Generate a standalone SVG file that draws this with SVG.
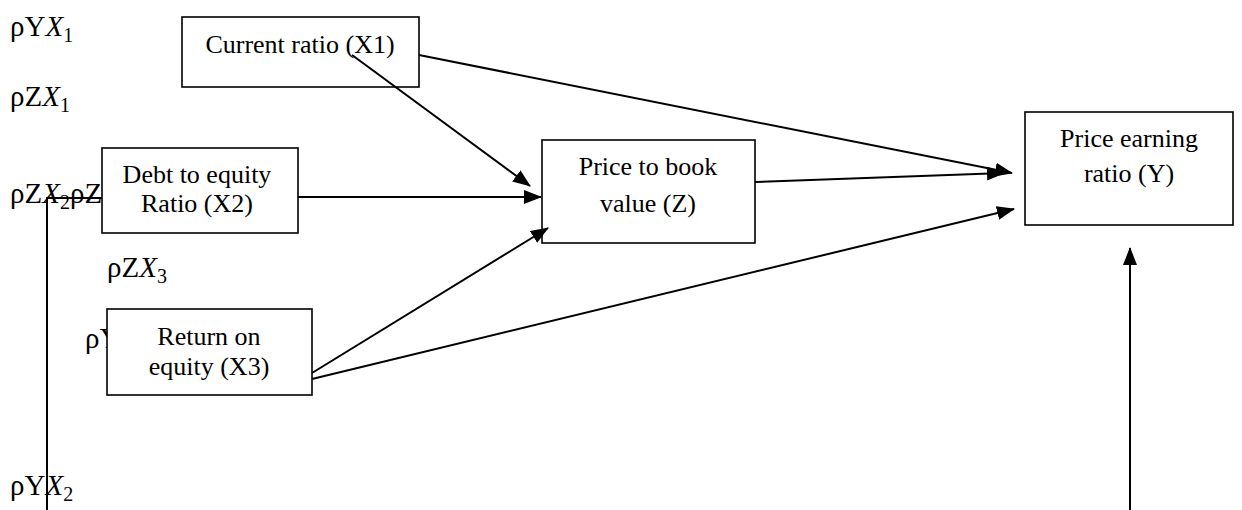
<svg xmlns="http://www.w3.org/2000/svg" width="1242" height="510" viewBox="0 0 1242 510">
  <style>
    .box { fill: #ffffff; stroke: #000000; stroke-width: 1.6; }
    .lbl { font-family: "Liberation Serif", "Times New Roman", serif; font-size: 26px; fill: #000000; text-anchor: middle; }
    .sym { font-family: "Liberation Serif", "Times New Roman", serif; font-size: 29px; fill: #000000; }
    .it { font-style: italic; }
    .sub { font-size: 20px; }
    .edge { fill: none; stroke: #000000; stroke-width: 2; }
  </style>
  <defs>
    <marker id="arrow" markerUnits="userSpaceOnUse" markerWidth="18" markerHeight="14" viewBox="0 0 18 14" refX="17" refY="7" orient="auto">
      <path d="M0,0 L18,7 L0,14 Z" fill="#000000"/>
    </marker>
  </defs>

  <rect width="1242" height="510" fill="#ffffff"/>

  <!-- path coefficient symbols (partly hidden behind the boxes) -->
  <g id="coefficients">
    <text class="sym" x="10" y="36">ρY<tspan class="it">X</tspan><tspan class="sub" dy="6">1</tspan></text>
    <text class="sym" x="10" y="106">ρZ<tspan class="it">X</tspan><tspan class="sub" dy="6">1</tspan></text>
    <text class="sym" x="10" y="203">ρZ<tspan class="it">X</tspan><tspan class="sub" dy="6">2</tspan><tspan dy="-6">ρZ</tspan></text>
    <text class="sym" x="107" y="277">ρZ<tspan class="it">X</tspan><tspan class="sub" dy="6">3</tspan></text>
    <text class="sym" x="85" y="348">ρY</text>
    <text class="sym" x="10" y="495">ρY<tspan class="it">X</tspan><tspan class="sub" dy="6">2</tspan></text>
  </g>

  <g id="current-ratio">
    <rect class="box" x="182" y="17" width="237" height="70"/>
    <text class="lbl" x="300" y="53">Current ratio (X1)</text>
  </g>

  <g id="debt-to-equity">
    <rect class="box" x="102" y="148" width="196" height="85"/>
    <text class="lbl" x="197" y="183">Debt to equity</text>
    <text class="lbl" x="197" y="212">Ratio (X2)</text>
  </g>

  <g id="return-on-equity">
    <rect class="box" x="107" y="309" width="205" height="86"/>
    <text class="lbl" x="209" y="345">Return on</text>
    <text class="lbl" x="209" y="375">equity (X3)</text>
  </g>

  <g id="price-to-book">
    <rect class="box" x="542" y="140" width="213" height="103"/>
    <text class="lbl" x="648" y="175">Price to book</text>
    <text class="lbl" x="648" y="212">value (Z)</text>
  </g>

  <g id="price-earning">
    <rect class="box" x="1025" y="112" width="208" height="113"/>
    <text class="lbl" x="1129" y="147">Price earning</text>
    <text class="lbl" x="1129" y="182">ratio (Y)</text>
  </g>

  <!-- connectors, drawn over the boxes -->
  <g id="connectors">
    <polyline class="edge" points="47,510 47,198 102,198"/>
    <line class="edge" x1="352" y1="55" x2="530" y2="186" marker-end="url(#arrow)"/>
    <line class="edge" x1="419" y1="55" x2="1012" y2="173" marker-end="url(#arrow)"/>
    <line class="edge" x1="298" y1="197" x2="541" y2="197" marker-end="url(#arrow)"/>
    <line class="edge" x1="312" y1="373" x2="548" y2="228" marker-end="url(#arrow)"/>
    <line class="edge" x1="312" y1="379" x2="1014" y2="209" marker-end="url(#arrow)"/>
    <line class="edge" x1="755" y1="182" x2="1004" y2="173" marker-end="url(#arrow)"/>
    <line class="edge" x1="1130" y1="510" x2="1130" y2="248" marker-end="url(#arrow)"/>
  </g>
</svg>
